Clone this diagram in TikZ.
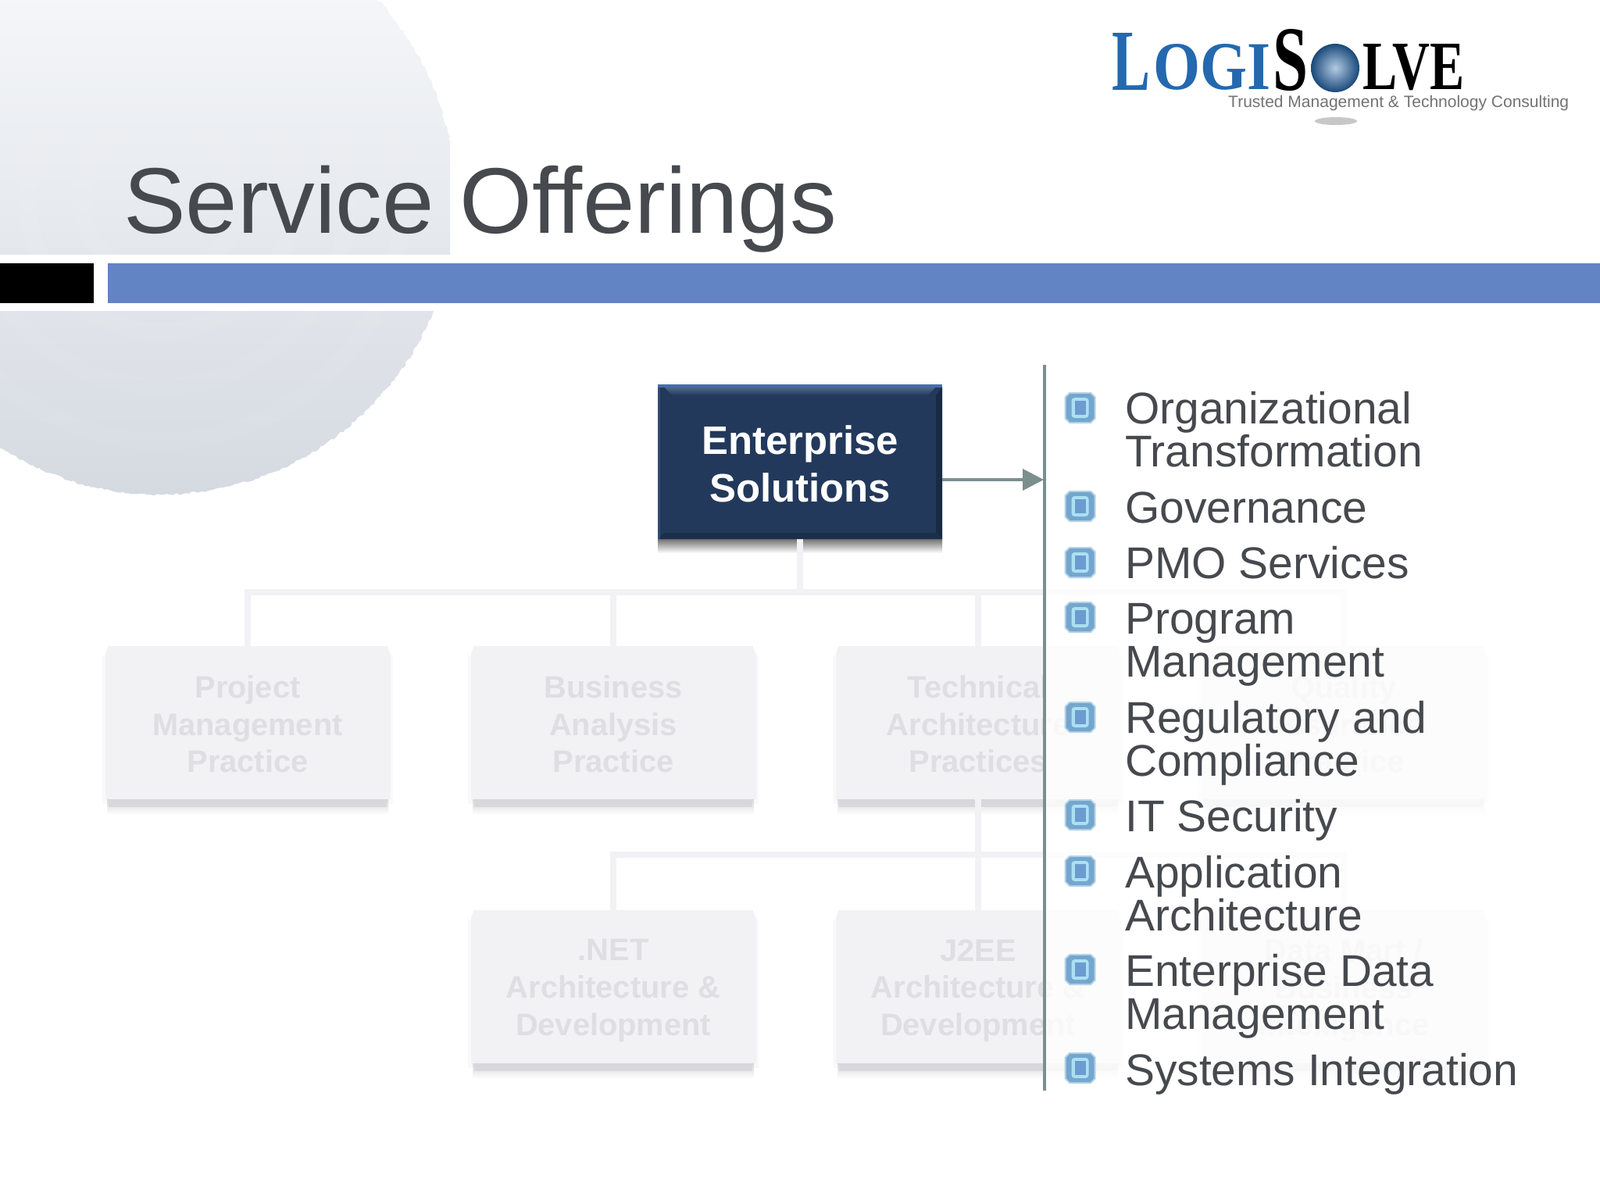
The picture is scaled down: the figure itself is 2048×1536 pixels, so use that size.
\documentclass[tikz,border=0pt]{standalone}
\usepackage{fontspec}
\usepackage{graphicx}
\setmainfont{Liberation Sans}
\newfontfamily\logoserif{Liberation Serif}
\usetikzlibrary{arrows.meta,calc,decorations.pathmorphing}
\definecolor{titlegrey}{HTML}{46494D}
\definecolor{barblue}{HTML}{6384C4}
\definecolor{faintbox}{HTML}{F2F2F5}
\definecolor{fainttext}{HTML}{DEDEE3}
\definecolor{faintshadow}{HTML}{D8D8DC}
\definecolor{navy}{HTML}{22395C}
\definecolor{arrowgrey}{HTML}{7C8E8E}
\definecolor{logoblue}{HTML}{2468AE}
\definecolor{bulletedge}{HTML}{B4D3E6}
\definecolor{bulletbody}{HTML}{74A6CE}
\definecolor{bulletring}{HTML}{ABE0F2}
\definecolor{bulletcore}{HTML}{6D9BD0}
\definecolor{spheretop}{HTML}{FAFBFD}
\definecolor{spheremid}{HTML}{E7E9EE}
\definecolor{spherelow}{HTML}{D5DAE1}
\tikzset{
  x=1pt,y=-1pt,
  practicebox/.style={rectangle,fill=faintbox,minimum width=365pt,minimum height=196pt,inner sep=0pt},
  practicetext/.style={inner sep=0pt,text=fainttext,align=center,font=\fontsize{39.8}{47.7}\selectfont\bfseries},
  faintconn/.style={draw=faintbox,line width=8pt},
  mainbox/.style={rectangle,fill=navy,minimum width=364pt,minimum height=198pt,inner sep=0pt},
  maintext/.style={inner sep=0pt,text=white,align=center,font=\fontsize{50.9}{61}\selectfont\bfseries},
  listitem/.style={anchor=base west,inner sep=0pt,align=left,text=titlegrey,
    font=\fontsize{56.9}{55}\selectfont},
  logotext/.style={anchor=base west,inner sep=0pt},
}
\newcommand{\bulletmark}[2]{%
  \begin{scope}[shift={(#1,#2)}]
    \fill[bulletedge] (-20,-14) -- (-14,-20) -- (14,-20) -- (20,-14) -- (20,14) -- (14,20) -- (-14,20) -- (-20,14) -- cycle;
    \fill[bulletbody] (-18,-13) -- (-13,-18) -- (13,-18) -- (18,-13) -- (18,13) -- (13,18) -- (-13,18) -- (-18,13) -- cycle;
    \fill[bulletring,rounded corners=4pt] (-11,-13) rectangle (11,13);
    \fill[bulletcore] (-7,-9) rectangle (7,9);
  \end{scope}}
\begin{document}
\begin{tikzpicture}
\useasboundingbox (0,0) rectangle (2048,1536);
\fill[white] (0,0) rectangle (2048,1536);
% background sphere
\begin{scope}
  \clip (0,0) rectangle (576,326) (0,398) rectangle (576,640);
  \shade[top color=spheretop,middle color=spheremid,bottom color=spherelow,
    decorate,decoration={random steps,segment length=4pt,amplitude=1.5pt}]
    (205,255) circle[radius=378];
  \foreach \r in {310,240,170,100}{
    \draw[white,line width=22pt,opacity=.05] (205,255) circle[radius=\r];
  }
\end{scope}
% title band
\fill[black] (0,337) rectangle (120,388);
\fill[barblue] (138,337) rectangle (2048,388);
\node[anchor=base west,inner sep=0pt,text=titlegrey,font=\fontsize{119.3}{119.3}\selectfont] (title) at (158,298) {Service Offerings};
% logo
\node[logotext,text=logoblue,font=\logoserif\bfseries] (logoL) at (1423,115) {\resizebox{49pt}{73pt}{L}};
\node[logotext,text=logoblue,font=\logoserif\bfseries] (logoOGI) at (1476,115) {\resizebox{150pt}{58pt}{OGI}};
\node[logotext,text=black,font=\logoserif\bfseries] (logoS) at (1629,116) {\resizebox{45pt}{78pt}{S}};
\shade[inner color=logoblue!35!white,outer color=logoblue!70!black] (1709,87) ellipse[x radius=31,y radius=31];
\node[logotext,text=black,font=\logoserif\bfseries] (logoLVE) at (1744,115) {\resizebox{130pt}{58pt}{LVE}};
\node[anchor=base west,inner sep=0pt,text=black!55,font=\fontsize{21}{21}\selectfont] (tagline) at (1572,138) {\resizebox{436pt}{!}{Trusted Management \& Technology Consulting}};
\fill[black!22] (1710,155) ellipse[x radius=27,y radius=5];
% faint organisation chart
\coordinate (bus) at (1024,758);
\coordinate (busb) at (1252,1094);
\foreach \nm/\xx/\yy/\dy/\tx in {
  pm/317/925/2/{Project\\Management\\Practice},
  ba/785/925/2/{Business\\Analysis\\Practice},
  ta/1252/925/2/{Technical\\Architecture\\Practices},
  qa/1720/925/2/{Quality\\Assurance\\Practice},
  net/785/1263/5/{.NET\\Architecture \&\\Development},
  jee/1252/1263/5/{J2EE\\Architecture \&\\Development},
  dm/1720/1263/5/{Data Mart /\\Business\\Intelligence}}{
  \fill[faintbox!45!white] (\xx-186,\yy-86) rectangle (\xx+186,\yy+104);
  \shade[top color=faintshadow,bottom color=white] (\xx-180,\yy+98) rectangle (\xx+180,\yy+118);
  \fill[faintshadow] (\xx-178,\yy+98) rectangle (\xx+178,\yy+108);
  \node[practicebox] (\nm) at (\xx,\yy) {};
  \fill[white] (\nm.north west) -- ++(4,0) -- ++(-4,12) -- cycle;
  \fill[white] (\nm.north east) -- ++(-4,0) -- ++(4,12) -- cycle;
  \node[practicetext] (\nm t) at ($(\nm.center)+(0,\dy)$) {\tx};
}
\draw[faintconn] (bus) -| (pm.north);
\draw[faintconn] (bus) -| (ba.north);
\draw[faintconn] (bus) -| (ta.north);
\draw[faintconn] (bus) -| (qa.north);
\draw[faintconn] (ta.south) -- (busb);
\draw[faintconn] (busb) -| (net.north);
\draw[faintconn] (busb) -- (jee.north);
\draw[faintconn] (busb) -| (dm.north);
% veil behind the list
\fill[white,opacity=.8] (1339,467) rectangle (1960,1400);
% main box
\shade[top color=black!55,bottom color=white] (842,690) rectangle (1206,708);
\node[mainbox] (es) at (1024,591) {};
\draw[faintconn] (es.south) -- (bus);
\fill[color={rgb,255:red,70;green,108;blue,172}] (es.north west) rectangle ($(es.north east)+(0,4)$);
\shade[top color={rgb,255:red,80;green,106;blue,135},bottom color=navy] ($(es.north west)+(9,4)$) -- ($(es.north east)+(-9,4)$) -- ($(es.north east)+(-18,14)$) -- ($(es.north west)+(18,14)$) -- cycle;
\fill[color={rgb,255:red,24;green,42;blue,68}] ($(es.north east)+(0,4)$) -- (es.south east) -- ($(es.south east)+(-8,-8)$) -- ($(es.north east)+(-8,14)$) -- cycle;
\fill[color={rgb,255:red,27;green,46;blue,74}] (es.south west) -- (es.south east) -- ($(es.south east)+(-8,-8)$) -- ($(es.south west)+(8,-8)$) -- cycle;
\fill[color={rgb,255:red,48;green,76;blue,112}] (es.south west) rectangle ($(es.north west)+(3,4)$);
\node[maintext] (est) at ($(es.center)+(0,2.6)$) {Enterprise\\Solutions};
% divider and arrow
\coordinate (vtop) at (1337,467);
\coordinate (vbot) at (1337,1396);
\coordinate (tip) at (1336,614);
\draw[arrowgrey,line width=4pt] (vtop) -- (vbot);
\draw[arrowgrey,line width=4pt,-{Triangle[length=27pt,width=27pt]}] (es.east |- tip) -- (tip);
% bullets
\foreach \yy in {522,648,720,790,918,1043,1115,1241,1367}{
  \bulletmark{1382.5}{\yy}
}
% list
\node[listitem] (i1) at (1440,597) {Organizational\\Transformation};
\node[listitem] (i2) at (1440,669) {Governance};
\node[listitem] (i3) at (1440,740) {PMO Services};
\node[listitem] (i4) at (1440,866) {Program\\Management};
\node[listitem] (i5) at (1440,993) {Regulatory and\\Compliance};
\node[listitem] (i6) at (1440,1064) {IT Security};
\node[listitem] (i7) at (1440,1191) {Application\\Architecture};
\node[listitem] (i8) at (1440,1317) {Enterprise Data\\Management};
\node[listitem] (i9) at (1440,1389) {Systems Integration};
\end{tikzpicture}
\end{document}
